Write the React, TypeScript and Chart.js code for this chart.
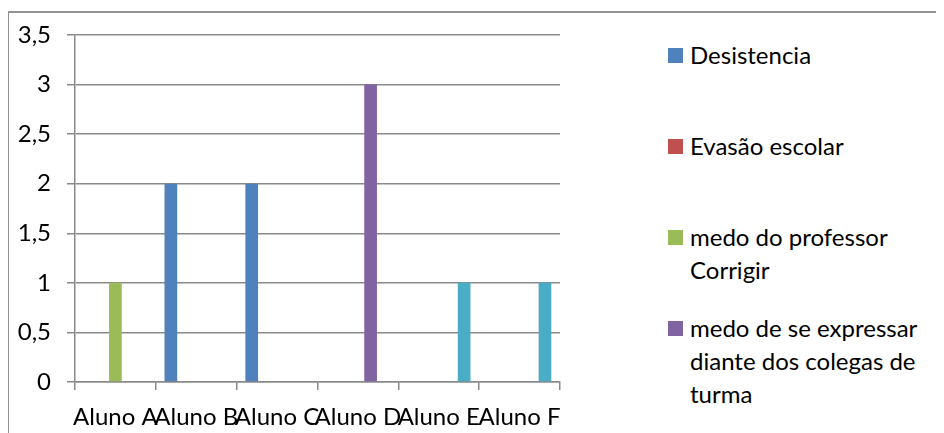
import React, { useEffect, useRef } from "react";
import { Chart, registerables } from "chart.js";

Chart.register(...registerables);

const categories = ["Aluno A", "Aluno B", "Aluno C", "Aluno D", "Aluno E", "Aluno F"];
const seriesNames = [
  "Desistencia",
  "Evasão escolar",
  "medo do professor Corrigir",
  "medo de se expressar diante dos colegas de turma",
  "Série 5",
];
const desistencia = [0, 2, 2, 0, 0, 0];
const evasaoEscolar = [0, 0, 0, 0, 0, 0];
const medoProfessor = [1, 0, 0, 0, 0, 0];
const medoExpressar = [0, 0, 0, 3, 0, 0];
const serie5 = [0, 0, 0, 0, 1, 1];
const yMin = 0;
const yMax = 3.5;
const yStep = 0.5;

const seriesColors = ["#4F81BD", "#C0504D", "#9BBB59", "#8064A2", "#4BACC6"];
const legendCount = 4;
const FONT = "Lato, 'Open Sans', sans-serif";
const GRAY = "#8a8a8a";

export default function App() {
  const canvasRef = useRef<HTMLCanvasElement | null>(null);

  useEffect(() => {
    if (!canvasRef.current) return;
    const values = [desistencia, evasaoEscolar, medoProfessor, medoExpressar, serie5];
    const chart = new Chart(canvasRef.current, {
      type: "bar",
      data: {
        labels: categories,
        datasets: values.map((v, i) => ({
          label: seriesNames[i],
          data: v,
          backgroundColor: seriesColors[i],
          borderWidth: 0,
          categoryPercentage: 0.785,
          barPercentage: 1,
        })),
      },
      options: {
        animation: false,
        responsive: true,
        maintainAspectRatio: false,
        locale: "pt-BR",
        layout: { padding: { top: 27, right: 48, left: 0, bottom: 0 } },
        plugins: {
          legend: { display: false },
          tooltip: { enabled: false },
        },
        scales: {
          x: {
            grid: {
              drawOnChartArea: false,
              drawTicks: true,
              tickLength: 8,
              color: GRAY,
              lineWidth: 1.5,
            },
            border: { display: true, color: GRAY, width: 1.5 },
            ticks: {
              autoSkip: false,
              maxRotation: 0,
              minRotation: 0,
              color: "#000",
              padding: 13,
              font: { family: FONT, size: 24 },
            },
            afterFit: (scale: any) => {
              scale.height = 51;
              scale.paddingLeft = 0;
              scale.paddingRight = 0;
            },
          },
          y: {
            min: yMin,
            max: yMax,
            ticks: {
              stepSize: yStep,
              color: "#000",
              padding: 16,
              font: { family: FONT, size: 24 },
              callback: (v: any) => String(v).replace(".", ","),
            },
            grid: {
              color: GRAY,
              lineWidth: 1.5,
              drawTicks: true,
              tickLength: 8,
            },
            border: { display: true, color: GRAY, width: 1.5 },
            afterFit: (scale: any) => {
              scale.width = 67;
              scale.paddingTop = 0;
              scale.paddingBottom = 0;
            },
          },
        },
      },
    });
    return () => chart.destroy();
  }, []);

  return (
    <div style={{ position: "relative", width: 936, height: 425, fontFamily: FONT, overflow: "hidden" }}>
      <div
        style={{
          position: "absolute",
          left: -1,
          top: 3,
          width: 1000,
          height: 500,
          border: "2px solid #939393",
          boxSizing: "border-box",
        }}
      />
      <div style={{ position: "absolute", left: 0, top: 0, width: 600, height: 425 }}>
        <canvas ref={canvasRef} />
      </div>
      <div style={{ position: "absolute", left: 660, top: 30 }}>
        {seriesNames.slice(0, legendCount).map((name, i) => (
          <div key={name} style={{ display: "flex", alignItems: "flex-start", height: 91 }}>
            <div
              style={{
                width: 15,
                height: 15,
                marginTop: 10,
                marginRight: 7,
                background: seriesColors[i],
                flex: "none",
              }}
            />
            <div style={{ width: 250, fontSize: 24, lineHeight: "33px", color: "#000" }}>{name}</div>
          </div>
        ))}
      </div>
    </div>
  );
}
